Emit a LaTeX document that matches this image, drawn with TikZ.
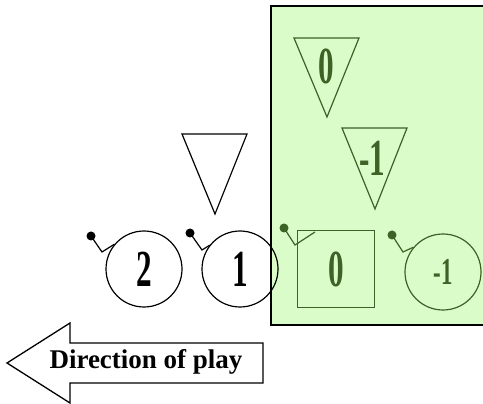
\documentclass[tikz,border=0pt]{standalone}
\usepackage{fontspec}
\setmainfont{Liberation Serif}
\usepackage{graphicx}
\usetikzlibrary{positioning}
\definecolor{ZoneGreen}{RGB}{217,252,201}
\definecolor{PlayGreen}{RGB}{60,98,38}
\newcommand{\narrow}[1]{\scalebox{0.6}[1]{#1}}
\tikzset{
  player/.style={circle,draw,line width=1.2pt,minimum size=76pt,inner sep=0pt},
  keeper/.style={draw,line width=1.2pt,minimum size=77pt,inner sep=0pt},
  pointer/.style={line width=1.2pt},
  marker/.style={line width=1.2pt},
  bignum/.style={font=\fontsize{52}{52}\selectfont\bfseries},
}
\begin{document}
\begin{tikzpicture}[x=1pt,y=-1pt]
  \clip (0,0) rectangle (483,404);
  % zone
  \draw[fill=ZoneGreen,line width=1.6pt] (271,6) rectangle (495,325);
  % markers
  \draw[marker] (182,134) -- (247,134) -- (215,214) -- cycle;
  \draw[marker,PlayGreen] (294,38) -- (359,38) -- (327,117) -- cycle;
  \draw[marker,PlayGreen] (342,128) -- (407,128) -- (375,209) -- cycle;
  \node[bignum,PlayGreen] (m0) at (326,66) {\narrow{0}};
  \node[bignum,PlayGreen] (m1) at (372,158) {\narrow{-1}};
  % players
  \node[player,bignum] (p2) at (144,269) {\narrow{2}};
  \node[player,bignum] (p1) at (240,269) {\narrow{1}};
  \node[keeper,PlayGreen,bignum] (k0) at (336,269) {\narrow{0}};
  \node[player,PlayGreen,font=\fontsize{38}{38}\selectfont\bfseries] (pm1) at (443,272) {\narrow{-1}};
  % facing
  \fill (91,236) circle (4.5);
  \draw[pointer] (91,236) -- (102,252) -- (p2.140);
  \fill (190,233) circle (4.5);
  \draw[pointer] (190,233) -- (202,250) -- (p1.142);
  \fill[PlayGreen] (284,228) circle (4.5);
  \draw[pointer,PlayGreen] (284,228) -- (295,245) -- (315,232);
  \fill[PlayGreen] (392,235) circle (4.5);
  \draw[pointer,PlayGreen] (392,235) -- (403,252) -- (pm1.140);
  % direction
  \draw[line width=1.3pt,fill=white] (7,363) -- (70,323) -- (70,343) -- (263,343)
    -- (263,383) -- (70,383) -- (70,403) -- cycle;
  \node[font=\fontsize{27}{27}\selectfont\bfseries] (dir) at (146,362) {Direction of play};
\end{tikzpicture}
\end{document}
